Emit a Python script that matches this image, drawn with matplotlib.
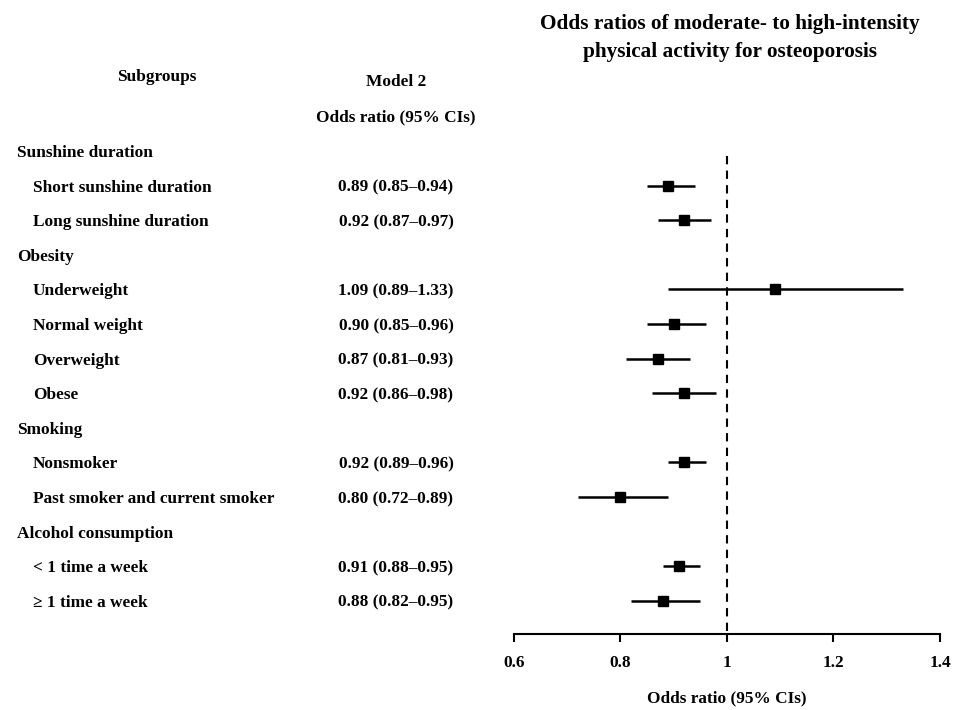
import matplotlib
matplotlib.use("Agg")
import matplotlib.pyplot as plt
import matplotlib.transforms as mtrans

plt.rcParams['font.family'] = ['Liberation Serif', 'DejaVu Serif']
plt.rcParams['font.weight'] = 'bold'

# Rows (header rows have no estimate)
row_labels = ["Sunshine duration", "Short sunshine duration", "Long sunshine duration",
              "Obesity", "Underweight", "Normal weight", "Overweight", "Obese",
              "Smoking", "Nonsmoker", "Past smoker and current smoker",
              "Alcohol consumption", "< 1 time a week", "\u2265 1 time a week"]
is_header = [True, False, False, True, False, False, False, False,
             True, False, False, True, False, False]
odds = [None, 0.89, 0.92, None, 1.09, 0.90, 0.87, 0.92, None, 0.92, 0.80, None, 0.91, 0.88]
lower = [None, 0.85, 0.87, None, 0.89, 0.85, 0.81, 0.86, None, 0.89, 0.72, None, 0.88, 0.82]
upper = [None, 0.94, 0.97, None, 1.33, 0.96, 0.93, 0.98, None, 0.96, 0.89, None, 0.95, 0.95]
xticks = [0.6, 0.8, 1.0, 1.2, 1.4]
xtick_labels = ["0.6", "0.8", "1", "1.2", "1.4"]

W, H = 962, 710
fig = plt.figure(figsize=(W / 100, H / 100), dpi=100)
FS = 12.4

ax = fig.add_axes([514 / W, 1 - 634 / H, 426 / W, (634 - 133.7) / H])
n = len(row_labels)
ax.set_xlim(0.6, 1.4)
ax.set_ylim(13.96, -0.5)

for i in range(n):
    if odds[i] is None:
        continue
    ax.plot([lower[i], upper[i]], [i, i], color='black', lw=1.8, solid_capstyle='butt')
    ax.plot(odds[i], i, marker='s', color='black', markersize=6.8)

ax.plot([1, 1], [0.15, 13.96], color='black', lw=1.5, ls=(0, (4, 3)))

for s in ['top', 'right', 'left']:
    ax.spines[s].set_visible(False)
ax.spines['bottom'].set_linewidth(1.5)
ax.set_yticks([])
ax.set_xticks(xticks)
ax.set_xticklabels(xtick_labels, fontsize=FS, fontweight='bold')
ax.tick_params(axis='x', direction='out', length=6, width=1.5, pad=9)

fig.text(727 / W, 1 - 698 / H, "Odds ratio (95% CIs)", fontsize=FS, fontweight='bold',
         ha='center', va='center')
fig.text(730 / W, 1 - 38 / H,
         "Odds ratios of moderate- to high-intensity\nphysical activity for osteoporosis",
         fontsize=15.3, fontweight='bold', ha='center', va='center', linespacing=1.5)

# left text columns
trans = mtrans.blended_transform_factory(fig.transFigure, ax.transData)
for i in range(n):
    x = 17 / W if is_header[i] else 33 / W
    ax.text(x, i, row_labels[i], transform=trans, fontsize=FS, fontweight='bold',
            va='center_baseline', ha='left', clip_on=False)
    if odds[i] is not None:
        s = f"{odds[i]:.2f} ({lower[i]:.2f}\u2013{upper[i]:.2f})"
        ax.text(396 / W, i, s, transform=trans, fontsize=FS, fontweight='bold',
                va='center_baseline', ha='center', clip_on=False)

fig.text(157 / W, 1 - 77 / H, "Subgroups", fontsize=FS, fontweight='bold', ha='center', va='center')
fig.text(396 / W, 1 - 82 / H, "Model 2", fontsize=FS, fontweight='bold', ha='center', va='center')
fig.text(396 / W, 1 - 117 / H, "Odds ratio (95% CIs)", fontsize=FS, fontweight='bold', ha='center', va='center')

fig.savefig("out.png", dpi=100, facecolor='white')
